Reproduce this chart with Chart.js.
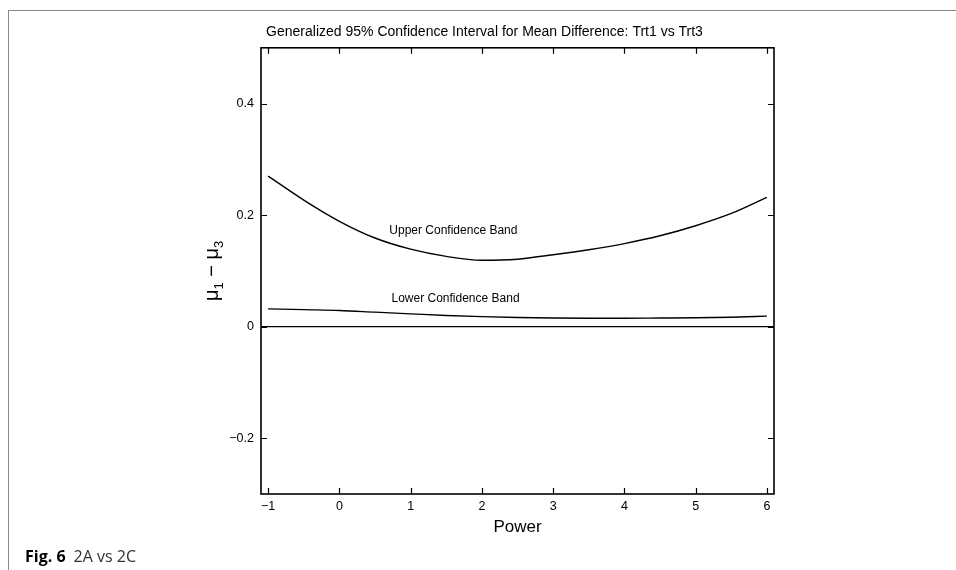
<!DOCTYPE html>
<html lang="en">
<head>
    <meta charset="UTF-8">
    <title>Generalized 95% Confidence Interval: Trt1 vs Trt3</title>
    <script src="https://cdn.jsdelivr.net/npm/chart.js"></script>
    <style>
        html, body { margin: 0; padding: 0; background: #fff; }
        #wrap { position: relative; width: 956px; height: 570px; overflow: hidden; }
        #panel { position: absolute; left: 8px; top: 10px; width: 960px; height: 580px;
                 border-top: 1px solid #888; border-left: 1px solid #888; }
        #plot { position: absolute; left: 0; top: 0; }
        #caption { position: absolute; left: 25px; top: 545px; font-family: "Open Sans", sans-serif;
                   font-size: 16px; color: #333; }
        #caption b { color: #000; margin-right: 8px; }
    </style>
</head>
<body>
    <div id="wrap">
        <div id="panel"></div>
        <canvas id="plot" width="956" height="570"></canvas>
        <div id="caption"><b>Fig. 6</b>2A vs 2C</div>
    </div>

    <script>
        // values
        const powerValues = [-1, -0.5, 0, 0.5, 1, 1.5, 2, 2.5, 3, 3.5, 4, 4.5, 5, 5.5, 6];
        const upperBand = [0.270, 0.227, 0.189, 0.159, 0.139, 0.126, 0.119, 0.121, 0.129, 0.138, 0.149, 0.163, 0.181, 0.203, 0.232];
        const lowerBand = [0.032, 0.0305, 0.029, 0.026, 0.023, 0.020, 0.018, 0.0165, 0.0155, 0.015, 0.015, 0.0155, 0.016, 0.017, 0.019];
        const xTicks = [-1, 0, 1, 2, 3, 4, 5, 6];
        const yTicks = [-0.2, 0, 0.2, 0.4];

        const plotFont = '"Liberation Sans", Arial, sans-serif';

        function fmt(v) {
            const s = String(Math.round(v * 10) / 10);
            return v < 0 ? '\u2212' + s.slice(1) : s;
        }

        function toPoints(ys) {
            return powerValues.map((x, i) => ({x: x, y: ys[i]}));
        }

        // frame with inward ticks on all four sides, band labels, y title with subscripts
        const framePlugin = {
            id: 'frame',
            afterDraw(chart) {
                const ctx = chart.ctx;
                const a = chart.chartArea;
                const xs = chart.scales.x, ys = chart.scales.y;
                const len = 6;
                ctx.save();
                ctx.strokeStyle = '#000';
                ctx.lineWidth = 1.6;
                ctx.strokeRect(a.left, a.top, a.right - a.left, a.bottom - a.top);
                ctx.lineWidth = 1.2;
                ctx.beginPath();
                xTicks.forEach(v => {
                    const px = Math.round(xs.getPixelForValue(v)) + 0.5;
                    ctx.moveTo(px, a.bottom); ctx.lineTo(px, a.bottom - len);
                    ctx.moveTo(px, a.top); ctx.lineTo(px, a.top + len);
                });
                yTicks.forEach(v => {
                    const py = Math.round(ys.getPixelForValue(v)) + 0.5;
                    ctx.moveTo(a.left, py); ctx.lineTo(a.left + len, py);
                    ctx.moveTo(a.right, py); ctx.lineTo(a.right - len, py);
                });
                ctx.stroke();

                ctx.fillStyle = '#000';
                ctx.font = '12px ' + plotFont;
                ctx.textAlign = 'center';
                ctx.textBaseline = 'middle';
                ctx.fillText('Upper Confidence Band', xs.getPixelForValue(1.6), ys.getPixelForValue(0.172));
                ctx.fillText('Lower Confidence Band', xs.getPixelForValue(1.63), ys.getPixelForValue(0.051));

                // y axis title: mu_1 - mu_3
                const parts = [
                    ['\u03bc', 20, 0], ['1', 13, 5], [' \u2212 ', 20, 0], ['\u03bc', 20, 0], ['3', 13, 5]
                ];
                let total = 0;
                parts.forEach(p => { ctx.font = p[1] + 'px ' + plotFont; total += ctx.measureText(p[0]).width; });
                ctx.translate(218, (a.top + a.bottom) / 2);
                ctx.rotate(-Math.PI / 2);
                ctx.textAlign = 'left';
                ctx.textBaseline = 'alphabetic';
                let cx = -total / 2;
                parts.forEach(p => {
                    ctx.font = p[1] + 'px ' + plotFont;
                    ctx.fillText(p[0], cx, p[2]);
                    cx += ctx.measureText(p[0]).width;
                });
                ctx.restore();
            }
        };

        new Chart(document.getElementById('plot').getContext('2d'), {
            type: 'scatter',
            data: {
                datasets: [
                    {
                        label: 'Upper Confidence Band',
                        data: toPoints(upperBand),
                        showLine: true,
                        borderColor: '#000',
                        borderWidth: 1.4,
                        pointRadius: 0,
                        cubicInterpolationMode: 'monotone'
                    },
                    {
                        label: 'Lower Confidence Band',
                        data: toPoints(lowerBand),
                        showLine: true,
                        borderColor: '#000',
                        borderWidth: 1.4,
                        pointRadius: 0,
                        cubicInterpolationMode: 'monotone'
                    }
                ]
            },
            options: {
                responsive: false,
                animation: false,
                layout: { padding: { left: 195, right: 182, top: 10, bottom: 30 } },
                plugins: {
                    legend: { display: false },
                    tooltip: { enabled: false },
                    title: {
                        display: true,
                        text: 'Generalized 95% Confidence Interval for Mean Difference: Trt1 vs Trt3',
                        color: '#000',
                        font: { family: plotFont, size: 14, weight: 'normal' },
                        padding: { top: 14, bottom: 7 }
                    }
                },
                scales: {
                    x: {
                        type: 'linear',
                        min: -1.1,
                        max: 6.1,
                        afterBuildTicks: s => { s.ticks = xTicks.map(v => ({value: v})); },
                        afterFit: s => { s.height = 46; },
                        grid: { display: false, drawTicks: false },
                        border: { display: false },
                        ticks: {
                            color: '#000',
                            padding: 5,
                            maxRotation: 0,
                            font: { family: plotFont, size: 12.5 },
                            callback: v => fmt(v)
                        },
                        title: {
                            display: true,
                            text: 'Power',
                            color: '#000',
                            font: { family: plotFont, size: 17 },
                            padding: { top: 0, bottom: 2 }
                        }
                    },
                    y: {
                        min: -0.3,
                        max: 0.5,
                        afterBuildTicks: s => { s.ticks = yTicks.map(v => ({value: v})); },
                        afterFit: s => { s.width = 66; },
                        grid: {
                            drawTicks: false,
                            lineWidth: 1.2,
                            color: c => (c.tick && c.tick.value === 0 ? '#000' : 'rgba(0,0,0,0)')
                        },
                        border: { display: false },
                        ticks: {
                            color: '#000',
                            padding: 7,
                            font: { family: plotFont, size: 12.5 },
                            callback: v => fmt(v)
                        }
                    }
                }
            },
            plugins: [framePlugin]
        });
    </script>
</body>
</html>
